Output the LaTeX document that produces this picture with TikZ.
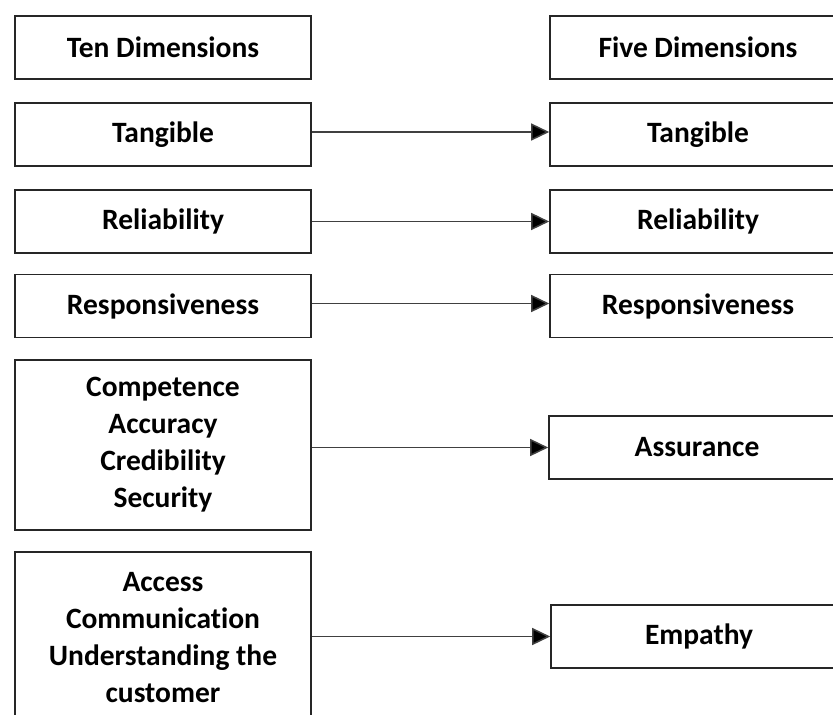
\documentclass[tikz,border=0pt]{standalone}
\usepackage{fontspec}
\setmainfont[RawFeature=-liga]{Carlito}
\usetikzlibrary{arrows.meta}
\begin{document}
\begin{tikzpicture}[x=1pt,y=-1pt,
  dimbox/.style={draw=black!85, line width=1.6pt, rectangle, inner sep=0pt,
    minimum width=296pt, align=center,
    font=\fontsize{29.5}{37}\selectfont\bfseries},
  onebox/.style={dimbox, minimum height=63pt},
  link/.style={draw=black!75, line width=1.5pt, -{Triangle[length=18pt,width=17pt,fill=black]}}]
\useasboundingbox (0,0) rectangle (833,715);
% left column
\node[onebox] (lh) at (163,47.5) {Ten Dimensions};
\node[onebox] (l1) at (163,134.5) {Tangible};
\node[onebox] (l2) at (163,221.5) {Reliability};
\node[onebox] (l3) at (163,306) {Responsiveness};
\node[dimbox, minimum height=170pt] (l4) at (163,445) {Competence\\Accuracy\\Credibility\\Security};
\node[dimbox, minimum height=172pt] (l5) at (163,638) {Access\\Communication\\Understanding the\\customer};
% right column
\node[onebox] (rh) at (698,47.5) {Five Dimensions};
\node[onebox] (r1) at (698,134.5) {Tangible};
\node[onebox] (r2) at (698,221.5) {Reliability};
\node[onebox] (r3) at (698,306) {Responsiveness};
\node[onebox] (r4) at (697,447.5) {Assurance};
\node[onebox] (r5) at (699,636.5) {Empathy};
% connectors
\draw[link] ([yshift=2.5pt]l1.east) -- ([yshift=2.5pt]r1.west);
\draw[link] (l2.east) -- (r2.west);
\draw[link] ([yshift=2.5pt]l3.east) -- ([yshift=2.5pt]r3.west);
\draw[link] (l4.east |- r4.west) -- (r4.west);
\draw[link] (l5.east |- r5.west) -- (r5.west);
\end{tikzpicture}
\end{document}
